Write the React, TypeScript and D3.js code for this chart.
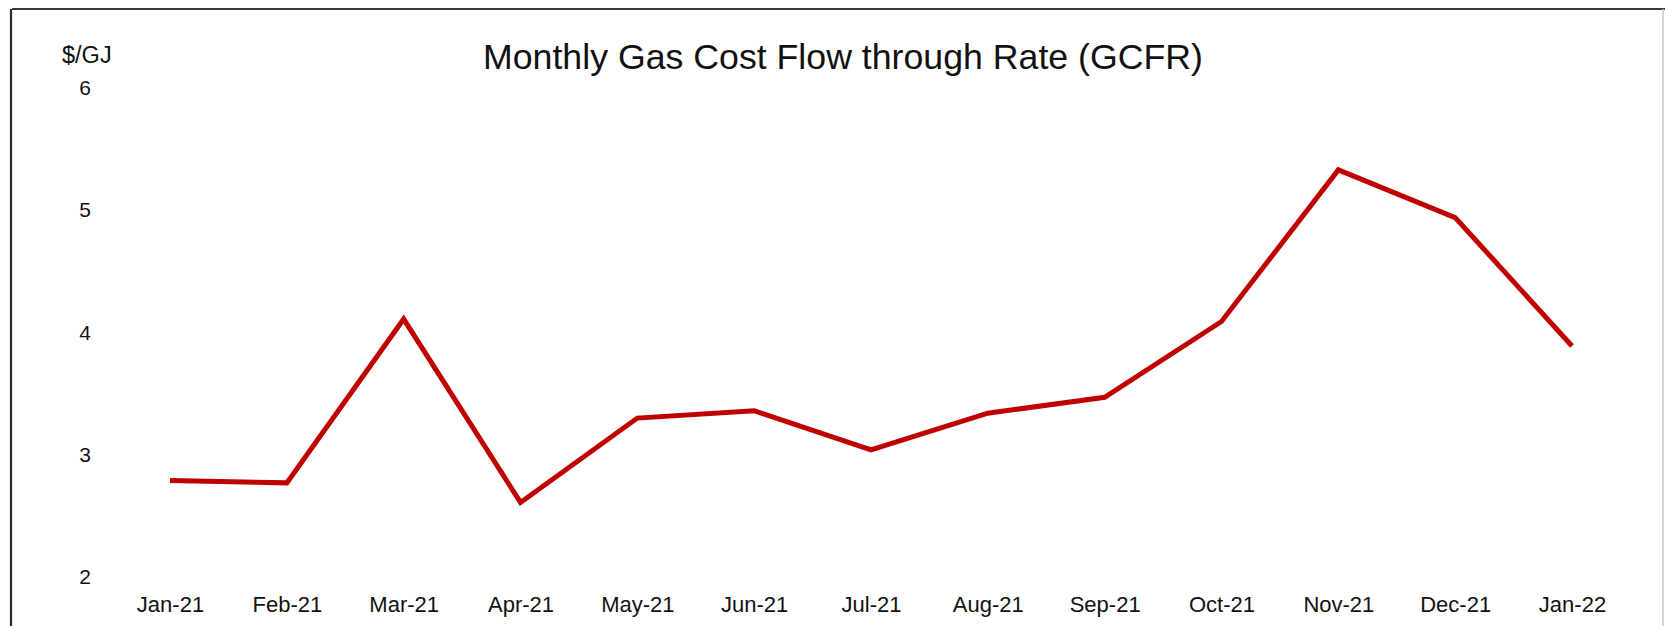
import React, { useRef, useEffect } from 'react';
import * as d3 from 'd3';

const months = ['Jan-21', 'Feb-21', 'Mar-21', 'Apr-21', 'May-21', 'Jun-21', 'Jul-21', 'Aug-21', 'Sep-21', 'Oct-21', 'Nov-21', 'Dec-21', 'Jan-22'];
const gcfr = [2.79, 2.77, 4.11, 2.61, 3.30, 3.36, 3.04, 3.34, 3.47, 4.09, 5.33, 4.94, 3.89];
const yTicks = [2, 3, 4, 5, 6];

const W = 1665;
const H = 626;
const FONT = 'Liberation Sans, Arial, sans-serif';

const App = () => {
    const svgRef = useRef<SVGSVGElement>(null);

    useEffect(() => {
        const svg = d3.select(svgRef.current);
        svg.selectAll('*').remove();

        const x = d3.scalePoint<string>().domain(months).range([170, 1572]);
        const y = d3.scaleLinear().domain([2, 6]).range([577, 88]);

        // frame: dark top/left, faint right edge
        svg.append('line')
            .attr('x1', 12).attr('x2', W).attr('y1', 9).attr('y2', 9)
            .attr('stroke', '#3a3a3a').attr('stroke-width', 2.2);
        svg.append('line')
            .attr('x1', 11).attr('x2', 11).attr('y1', 9).attr('y2', H)
            .attr('stroke', '#2a2a2a').attr('stroke-width', 2.2);
        svg.append('line')
            .attr('x1', 1663).attr('x2', 1663).attr('y1', 9).attr('y2', H)
            .attr('stroke', '#c8c8c8').attr('stroke-width', 1.5);

        svg.append('text')
            .attr('x', 843).attr('y', 69)
            .attr('text-anchor', 'middle')
            .style('font-size', '35.7px')
            .style('font-family', FONT)
            .attr('fill', '#111')
            .text('Monthly Gas Cost Flow through Rate (GCFR)');

        svg.append('text')
            .attr('x', 62).attr('y', 63)
            .style('font-size', '23.5px')
            .style('font-family', FONT)
            .attr('fill', '#111')
            .text('$/GJ');

        const yAxis = svg.append('g')
            .attr('transform', 'translate(91,0)')
            .call(d3.axisLeft(y).tickValues(yTicks).tickSize(0).tickPadding(0).tickFormat(d3.format('d')));
        yAxis.select('.domain').remove();
        yAxis.selectAll('text')
            .style('font-size', '21px')
            .style('font-family', FONT)
            .attr('fill', '#111');

        const xAxis = svg.append('g')
            .attr('transform', 'translate(0,577)')
            .call(d3.axisBottom(x).tickSize(0).tickPadding(19.4));
        xAxis.select('.domain').remove();
        xAxis.selectAll('text')
            .style('font-size', '22px')
            .style('font-family', FONT)
            .attr('fill', '#111');

        const line = d3.line<number>()
            .x((d, i) => x(months[i]) as number)
            .y(d => y(d));

        svg.append('path')
            .datum(gcfr)
            .attr('d', line)
            .attr('fill', 'none')
            .attr('stroke', '#c00000')
            .attr('stroke-width', 5)
            .attr('stroke-linejoin', 'miter');
    }, []);

    return (
        <svg
            ref={svgRef}
            width={W}
            height={H}
            style={{ position: 'absolute', left: 0, top: 0, background: 'white' }}
        />
    );
};

export default App;
